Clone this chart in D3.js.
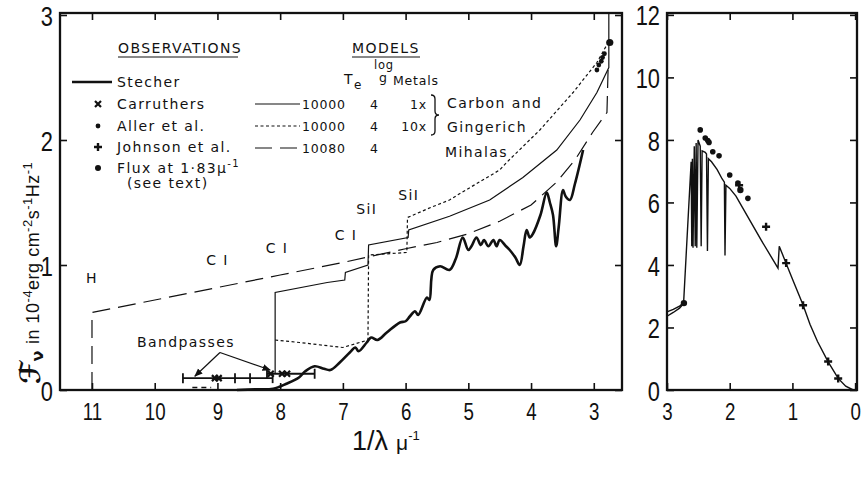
<!DOCTYPE html>
<html>
<head>
<meta charset="utf-8">
<style type="text/css">
    body { margin: 0; background: white; }
    svg { display: block; }
    .tick line { stroke: #111; stroke-width: 1.6; }
    .tick text { fill: #111; font-family: "Liberation Sans", sans-serif; }
    .frame { fill: none; stroke: #111; stroke-width: 2.3; }
    .lab { font-family: "DejaVu Sans", sans-serif; font-size: 14px; fill: #111; letter-spacing: 1.4px; }
    .num { font-family: "DejaVu Sans", sans-serif; font-size: 12.5px; fill: #111; letter-spacing: 0.8px; }
    .model { fill: none; stroke: #111; stroke-width: 1.2; }
</style>
</head>
<body>
<script src="https://cdn.jsdelivr.net/npm/d3@7"></script>
<script type="text/javascript">

    // ---- data (wavenumber 1/lambda in micron^-1, flux in 1e-4 erg cm-2 s-1 Hz-1)
    var leftTicksX = [11, 10, 9, 8, 7, 6, 5, 4, 3];
    var leftTicksY = [0, 1, 2, 3];
    var rightTicksX = [3, 2, 1, 0];
    var rightTicksY = [0, 2, 4, 6, 8, 10, 12];

    // Stecher observed spectrum
    var stecher = [[8.69, 0.0], [8.4, 0.005], [8.11, 0.01], [7.9, 0.05], [7.7, 0.10], [7.6, 0.15], [7.45, 0.19],
        [7.3, 0.17], [7.2, 0.16], [7.05, 0.22], [6.89, 0.30], [6.8, 0.34], [6.75, 0.31], [6.62, 0.38], [6.55, 0.42],
        [6.45, 0.40], [6.3, 0.46], [6.09, 0.54], [6.0, 0.55], [5.93, 0.59], [5.85, 0.63], [5.8, 0.60], [5.66, 0.74],
        [5.62, 0.72], [5.56, 0.96], [5.45, 0.99], [5.3, 0.96], [5.2, 1.05], [5.09, 1.22], [5.0, 1.12], [4.95, 1.15],
        [4.87, 1.22], [4.8, 1.16], [4.75, 1.2], [4.68, 1.15], [4.6, 1.2], [4.55, 1.15], [4.5, 1.2], [4.4, 1.15],
        [4.34, 1.12], [4.25, 1.06], [4.18, 1.0], [4.12, 1.15], [4.07, 1.28], [4.02, 1.22], [3.97, 1.25], [3.85, 1.4],
        [3.75, 1.58], [3.7, 1.5], [3.65, 1.4], [3.6, 1.15], [3.56, 1.3], [3.49, 1.6], [3.45, 1.55], [3.38, 1.52],
        [3.3, 1.65], [3.17, 1.92]];

    // Carbon & Gingerich, 10000 K, log g 4, metals 1x
    var modelCG1 = [[8.08, 0.13], [8.08, 0.78], [7.25, 0.86], [6.97, 0.88], [6.96, 0.94], [6.6, 1.0], [6.59, 1.16],
        [5.96, 1.22], [5.95, 1.28], [5.3, 1.39], [4.66, 1.52], [4.13, 1.70], [3.59, 1.92], [3.22, 2.16],
        [2.95, 2.38], [2.76, 2.58], [2.76, 3.02]];
    // Carbon & Gingerich, metals 10x
    var modelCG10 = [[8.08, 0.40], [7.69, 0.38], [7.0, 0.34], [6.6, 0.40], [6.59, 1.08], [5.98, 1.10], [5.97, 1.38],
        [5.6, 1.46], [5.3, 1.52], [5.14, 1.57], [4.5, 1.76], [4.39, 1.82], [3.86, 2.08], [3.33, 2.38],
        [2.95, 2.62], [2.77, 2.78]];
    // Mihalas 10080 K
    var modelMihalas = [[11, 0], [11, 0.62], [9, 0.82], [8, 0.92], [7, 1.02], [6, 1.13], [5.5, 1.18], [5, 1.25],
        [4.5, 1.35], [4, 1.48], [3.6, 1.66], [3.3, 1.84], [3.02, 2.06], [2.79, 2.22], [2.77, 2.6]];

    var allerLeft = [[2.83, 2.69], [2.86, 2.66], [2.88, 2.63], [2.92, 2.60], [2.95, 2.56]];
    var fluxLeft = [[2.745, 2.78]];
    var carruthers = [[9.04, 0.095], [8.98, 0.095], [8.15, 0.13], [7.97, 0.13], [7.89, 0.13]];
    var bandBars = [[9.55, 8.12, 0.095], [8.21, 7.45, 0.13]];
    var bandMarks = [[8.72, 0.095], [8.48, 0.095]];

    // right panel: visible / near-IR
    var rightCurve = [[3.0, 2.50], [2.9, 2.58], [2.8, 2.68], [2.735, 2.80], [2.615, 7.3], [2.605, 4.6], [2.595, 7.4],
        [2.585, 4.55], [2.565, 7.8], [2.55, 4.6], [2.535, 7.9], [2.525, 4.55], [2.505, 8.0], [2.47, 7.8],
        [2.455, 4.6], [2.44, 7.65], [2.39, 7.6], [2.37, 7.55], [2.355, 4.45], [2.34, 7.4], [2.29, 7.3],
        [2.2, 7.05], [2.12, 6.75], [2.085, 6.65], [2.075, 4.3], [2.06, 6.55], [2.0, 6.45], [1.9, 6.2],
        [1.8, 5.85], [1.5, 4.8], [1.23, 3.9], [1.21, 4.6], [1.1, 4.05], [1.0, 3.55], [0.83, 2.72],
        [0.72, 2.1], [0.6, 1.55], [0.43, 0.9], [0.27, 0.37], [0.15, 0.12], [0.03, 0.0]];
    var rightCurve2 = [[3.0, 2.36], [2.9, 2.48], [2.8, 2.62], [2.745, 2.74]];
    var allerRight = [[2.47, 8.32], [2.39, 8.06], [2.35, 7.98], [2.33, 7.92], [2.27, 7.62], [2.17, 7.49],
        [2.0, 6.88], [1.87, 6.62], [1.71, 6.13]];
    var johnsonRight = [[1.85, 6.55], [1.42, 5.22], [1.10, 4.06], [0.83, 2.71], [0.43, 0.91], [0.27, 0.37]];
    var fluxRight = [[2.73, 2.78], [1.83, 6.4]];

    // line identifications written inside the left panel
    var notes = [["H", 11.0, 0.86], ["C I", 9.0, 1.0], ["C I", 8.05, 1.1], ["C I", 6.95, 1.2],
        ["SiI", 6.62, 1.41], ["SiI", 5.95, 1.52]];

    var width = 864, height = 480;
    var squeeze = 0.78;   // tick digits are tall and narrow

    var svg = d3.select("body").append("svg")
        .attr("width", width)
        .attr("height", height);

    var xL = d3.scaleLinear().domain([11.51, 2.55]).range([60, 622]);
    var yL = d3.scaleLinear().domain([0, 3.016]).range([390, 13]);
    var xR = d3.scaleLinear().domain([3, -0.03]).range([667, 857]);
    var yR = d3.scaleLinear().domain([0, 12.06]).range([390, 13]);

    // axes with inward ticks
    function axes(x, y, tx, ty) {
        var g = svg.append("g");
        var b = g.append("g").attr("transform", "translate(0," + y.range()[0] + ")")
            .call(d3.axisBottom(x).tickValues(tx).tickFormat(d3.format("d")).tickSizeInner(-7).tickSizeOuter(0).tickPadding(13));
        b.selectAll("text").style("font-size", "24px").attr("transform", "scale(" + squeeze + ",1)");
        g.append("g").attr("transform", "translate(0," + y.range()[1] + ")")
            .call(d3.axisTop(x).tickValues(tx).tickSizeInner(-7).tickSizeOuter(0).tickFormat(""));
        var l = g.append("g").attr("transform", "translate(" + x.range()[0] + ",0)")
            .call(d3.axisLeft(y).tickValues(ty).tickFormat(d3.format("d")).tickSizeInner(-7).tickSizeOuter(0));
        l.selectAll("text").style("font-size", "28px").attr("dy", "0.36em")
            .attr("x", -7 / squeeze).attr("transform", "scale(" + squeeze + ",1)");
        g.append("g").attr("transform", "translate(" + x.range()[1] + ",0)")
            .call(d3.axisLeft(y).tickValues(ty).tickSizeInner(7).tickSizeOuter(0).tickFormat(""));
        g.selectAll(".domain").remove();
        g.append("rect").attr("class", "frame")
            .attr("x", x.range()[0]).attr("y", y.range()[1])
            .attr("width", x.range()[1] - x.range()[0])
            .attr("height", y.range()[0] - y.range()[1]);
    }
    axes(xL, yL, leftTicksX, leftTicksY);
    axes(xR, yR, rightTicksX, rightTicksY);

    var lineL = d3.line().x(function (d) { return xL(d[0]); }).y(function (d) { return yL(d[1]); });
    var lineR = d3.line().x(function (d) { return xR(d[0]); }).y(function (d) { return yR(d[1]); });

    // models
    svg.append("path").attr("class", "model").attr("d", lineL(modelMihalas)).attr("stroke-dasharray", "18,8");
    svg.append("path").attr("class", "model").attr("d", lineL(modelCG10)).attr("stroke-dasharray", "3,2.5");
    svg.append("path").attr("class", "model").attr("d", lineL(modelCG1));

    // observed
    svg.append("path").attr("d", d3.line().curve(d3.curveCatmullRom.alpha(0.5))
            .x(function (d) { return xL(d[0]); }).y(function (d) { return yL(d[1]); })(stecher))
        .style("fill", "none").style("stroke", "#111").style("stroke-width", 2.6).style("stroke-linejoin", "round");

    // bandpasses
    svg.append("g").selectAll("line").data(bandBars).enter().append("line")
        .attr("x1", function (d) { return xL(d[0]); }).attr("x2", function (d) { return xL(d[1]); })
        .attr("y1", function (d) { return yL(d[2]); }).attr("y2", function (d) { return yL(d[2]); })
        .style("stroke", "#111").style("stroke-width", 1.8);
    var caps = [];
    bandBars.forEach(function (d) { caps.push([d[0], d[2]]); caps.push([d[1], d[2]]); });
    svg.append("g").selectAll("line").data(caps.concat(bandMarks)).enter().append("line")
        .attr("x1", function (d) { return xL(d[0]); }).attr("x2", function (d) { return xL(d[0]); })
        .attr("y1", function (d) { return yL(d[1]) - 5; }).attr("y2", function (d) { return yL(d[1]) + 5; })
        .style("stroke", "#111").style("stroke-width", 1.8);
    svg.append("line").attr("x1", xL(9.4)).attr("x2", xL(9.1)).attr("y1", yL(0.02)).attr("y2", yL(0.02))
        .style("stroke", "#111").style("stroke-width", 1.6).attr("stroke-dasharray", "5,4");

    // markers
    function cross(g, data, x, y, s) {
        g.selectAll(null).data(data).enter().append("path")
            .attr("d", function (d) {
                var px = x(d[0]), py = y(d[1]);
                return "M" + (px - s) + "," + (py - s) + "L" + (px + s) + "," + (py + s) +
                    "M" + (px - s) + "," + (py + s) + "L" + (px + s) + "," + (py - s);
            })
            .style("stroke", "#111").style("stroke-width", 2.2);
    }
    function plus(g, data, x, y, s) {
        g.selectAll(null).data(data).enter().append("path")
            .attr("d", function (d) {
                var px = x(d[0]), py = y(d[1]);
                return "M" + (px - s) + "," + py + "L" + (px + s) + "," + py +
                    "M" + px + "," + (py - s) + "L" + px + "," + (py + s);
            })
            .style("stroke", "#111").style("stroke-width", 2.4);
    }
    function dots(g, data, x, y, r) {
        g.selectAll(null).data(data).enter().append("circle")
            .attr("cx", function (d) { return x(d[0]); }).attr("cy", function (d) { return y(d[1]); })
            .attr("r", r).style("fill", "#111");
    }
    var mk = svg.append("g");
    cross(mk, carruthers, xL, yL, 3);
    dots(mk, allerLeft, xL, yL, 2.4);
    dots(mk, fluxLeft, xL, yL, 3.6);

    // right panel curves
    svg.append("path").attr("class", "model").attr("d", lineR(rightCurve)).style("stroke-width", 1.4);
    svg.append("path").attr("class", "model").attr("d", lineR(rightCurve2)).style("stroke-width", 1.4);
    dots(mk, allerRight, xR, yR, 2.8);
    plus(mk, johnsonRight, xR, yR, 4);
    dots(mk, fluxRight, xR, yR, 3.2);

    // labels inside the left panel
    svg.append("g").selectAll("text").data(notes).enter().append("text")
        .attr("class", "lab").attr("text-anchor", "middle")
        .attr("x", function (d) { return xL(d[1]); }).attr("y", function (d) { return yL(d[2]); })
        .text(function (d) { return d[0]; });

    svg.append("text").attr("class", "lab").attr("x", 137).attr("y", 347).text("Bandpasses");
    svg.append("defs").append("marker").attr("id", "arr").attr("viewBox", "0 0 10 10")
        .attr("refX", 9).attr("refY", 5).attr("markerWidth", 7).attr("markerHeight", 7)
        .attr("orient", "auto").append("path").attr("d", "M0,1L10,5L0,9z").style("fill", "#111");
    var arrows = [[8.96, 0.30, 9.36, 0.11], [8.96, 0.30, 8.16, 0.16]];
    svg.append("g").selectAll("line").data(arrows).enter().append("line")
        .attr("x1", function (d) { return xL(d[0]); }).attr("y1", function (d) { return yL(d[1]); })
        .attr("x2", function (d) { return xL(d[2]); }).attr("y2", function (d) { return yL(d[3]); })
        .style("stroke", "#111").style("stroke-width", 1.2).attr("marker-end", "url(#arr)");

    // legend: observations
    var leg = svg.append("g");
    leg.append("text").attr("class", "lab").attr("x", 118).attr("y", 53).text("OBSERVATIONS");
    leg.append("line").attr("x1", 118).attr("x2", 238).attr("y1", 57).attr("y2", 57).style("stroke", "#111");
    leg.append("line").attr("x1", 72).attr("x2", 112).attr("y1", 82).attr("y2", 82).style("stroke", "#111").style("stroke-width", 2.4);
    leg.append("text").attr("class", "lab").attr("x", 117).attr("y", 87).text("Stecher");
    var idn = function (v) { return v; };
    cross(leg, [[98, 104]], idn, idn, 3);
    leg.append("text").attr("class", "lab").attr("x", 117).attr("y", 109).text("Carruthers");
    dots(leg, [[98, 126]], idn, idn, 2.4);
    leg.append("text").attr("class", "lab").attr("x", 117).attr("y", 131).text("Aller et al.");
    plus(leg, [[98, 147]], idn, idn, 4);
    leg.append("text").attr("class", "lab").attr("x", 117).attr("y", 152).text("Johnson et al.");
    dots(leg, [[98, 168]], idn, idn, 3);
    var fl = leg.append("text").attr("class", "lab").attr("x", 117).attr("y", 173);
    fl.append("tspan").text("Flux at 1·83μ");
    fl.append("tspan").attr("dy", -6).style("font-size", "10px").text("-1");
    leg.append("text").attr("class", "lab").attr("x", 127).attr("y", 188).text("(see text)");

    // legend: models
    leg.append("text").attr("class", "lab").attr("x", 352).attr("y", 53).text("MODELS");
    leg.append("line").attr("x1", 352).attr("x2", 420).attr("y1", 57).attr("y2", 57).style("stroke", "#111");
    var te = leg.append("text").attr("class", "lab").attr("x", 344).attr("y", 84);
    te.append("tspan").text("T");
    te.append("tspan").attr("dy", 5).style("font-size", "12px").text("e");
    leg.append("text").attr("class", "num").attr("x", 374).attr("y", 69).style("font-size", "11.5px").text("log");
    leg.append("text").attr("class", "num").attr("x", 379).attr("y", 82).text("g");
    leg.append("text").attr("class", "num").attr("x", 393).attr("y", 85).text("Metals");
    var rows = [["10000", "1x", 104, null], ["10000", "10x", 126, "3,2.5"], ["10080", "", 148, "17,8"]];
    rows.forEach(function (r) {
        leg.append("line").attr("x1", 255).attr("x2", 300).attr("y1", r[2]).attr("y2", r[2])
            .style("stroke", "#111").style("stroke-width", 1.2).attr("stroke-dasharray", r[3]);
        leg.append("text").attr("class", "num").attr("x", 302).attr("y", r[2] + 5).text(r[0]);
        leg.append("text").attr("class", "num").attr("x", 370).attr("y", r[2] + 5).text("4");
        leg.append("text").attr("class", "num").attr("x", 427).attr("y", r[2] + 5).attr("text-anchor", "end").text(r[1]);
    });
    leg.append("path").attr("d", "M431,95 Q435,95 435,99 L435,111 Q435,115 439,115 Q435,115 435,119 L435,131 Q435,135 431,135")
        .style("fill", "none").style("stroke", "#111").style("stroke-width", 1.3);
    leg.append("text").attr("class", "lab").attr("x", 447).attr("y", 108).text("Carbon and");
    leg.append("text").attr("class", "lab").attr("x", 447).attr("y", 132).text("Gingerich");
    leg.append("text").attr("class", "lab").attr("x", 445).attr("y", 157).text("Mihalas");

    // axis titles
    var yt = svg.append("g").attr("transform", "translate(40,384) rotate(-90)");
    var t1 = yt.append("text").style("font-family", "DejaVu Sans, sans-serif").style("fill", "#111");
    t1.append("tspan").style("font-size", "28px").style("font-weight", "bold").text("ℱ");
    t1.append("tspan").style("font-size", "16px").style("font-weight", "bold").attr("dy", 3).text("ν");
    var t2 = yt.append("text").attr("x", 40).attr("y", -1).style("font-family", "Liberation Sans, sans-serif")
        .style("font-size", "18px").style("letter-spacing", "0.5px").style("fill", "#111");
    t2.append("tspan").text("in 10");
    t2.append("tspan").attr("dy", -7).style("font-size", "13px").text("-4");
    t2.append("tspan").attr("dy", 7).text("erg cm");
    t2.append("tspan").attr("dy", -7).style("font-size", "13px").text("-2");
    t2.append("tspan").attr("dy", 7).text("s");
    t2.append("tspan").attr("dy", -7).style("font-size", "13px").text("-1");
    t2.append("tspan").attr("dy", 7).text("Hz");
    t2.append("tspan").attr("dy", -7).style("font-size", "13px").text("-1");

    var xt = svg.append("text").attr("x", 352).attr("y", 450)
        .style("font-family", "Liberation Sans, sans-serif").style("fill", "#111");
    xt.append("tspan").style("font-size", "27px").text("1/λ");
    xt.append("tspan").attr("dx", 8).style("font-size", "21px").text("μ");
    xt.append("tspan").attr("dy", -10).style("font-size", "13px").text("-1");

</script>
</body>
</html>
